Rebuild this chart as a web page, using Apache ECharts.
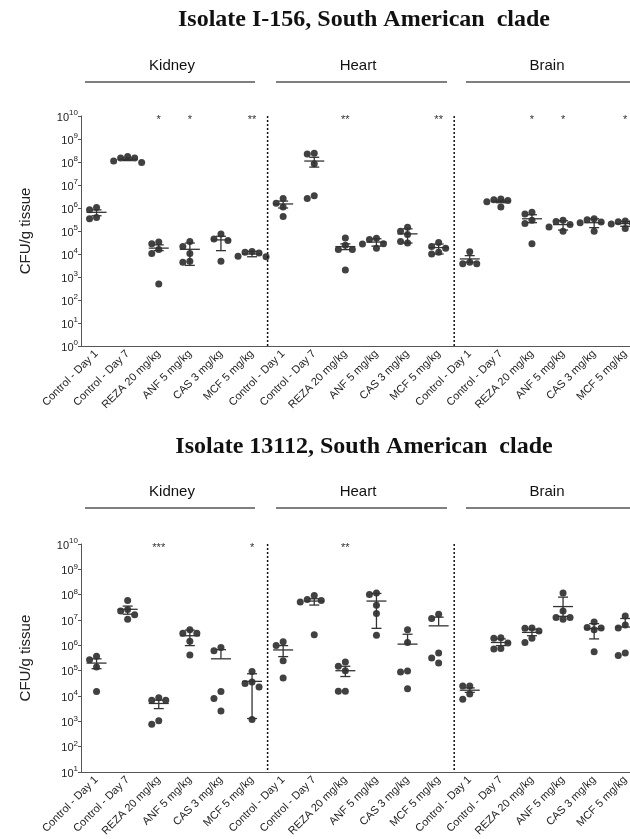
<!DOCTYPE html>
<html>
<head>
<meta charset="utf-8">
<script src="https://cdn.jsdelivr.net/npm/echarts@6/dist/echarts.min.js"></script>
<style>
  html, body { margin: 0; padding: 0; background: #fff; width: 630px; height: 839px; overflow: hidden; }
  #main { width: 660px; height: 839px; }
</style>
</head>
<body>
<div id="main"></div>
<script>
var chart = echarts.init(document.getElementById("main"));

var organs = ["Kidney", "Heart", "Brain"];
var treatments = ["Control - Day 1", "Control - Day 7", "REZA 20 mg/kg", "ANF 5 mg/kg", "CAS 3 mg/kg", "MCF 5 mg/kg"];
var categories = treatments.concat(treatments, treatments);

// Isolate I-156: CFU/g per mouse, kidney x6, heart x6, brain x6
var i156Points = [
  [8.3e5, 1.05e6, 3.4e5, 3.9e5],
  [1.75e8, 1.5e8, 1.1e8, 1.5e8, 9.5e7],
  [3.3e4, 2.8e4, 1.55e4, 1.05e4, 500],
  [3.5e4, 2.1e4, 1.05e4, 4.4e3, 4.8e3],
  [7.4e4, 4.5e4, 3.9e4, 4.8e3],
  [1.3e4, 1.1e4, 1.2e4, 7.5e3, 8e3],
  [2.6e6, 1.6e6, 1.1e6, 4.3e5],
  [2.4e8, 2.25e8, 8.3e7, 2.6e6, 3.4e6],
  [5e4, 2.4e4, 1.55e4, 1.55e4, 2e3],
  [4.8e4, 4.3e4, 2.8e4, 2.7e4, 1.8e4],
  [1.45e5, 9.8e4, 7e4, 3e4, 3.5e4],
  [2.1e4, 1.8e4, 3.2e4, 1e4, 1.2e4],
  [1.25e4, 3.8e3, 4.4e3, 3.8e3],
  [2.45e6, 2.1e6, 2.3e6, 1.85e6, 1.1e6],
  [6.5e5, 5.5e5, 2.9e5, 2.1e5, 2.8e4],
  [2.9e5, 1.9e5, 2.6e5, 1.5e5, 9.8e4],
  [3.4e5, 2.45e5, 3.1e5, 2.3e5, 9.8e4],
  [2.7e5, 2.3e5, 2.5e5, 1.3e5, 2e5]
];
var i156Mean = [6.5e5, 1.3e8, 1.8e4, 1.6e4, 4.1e4, 1.0e4, 1.5e6, 1.1e8, 2.1e4, 3.3e4, 7.5e4, 1.9e4, 6.1e3, 1.95e6, 3.4e5, 1.9e5, 2.3e5, 2.1e5];
var i156Low = [4.6e5, 1.15e8, 1.4e4, 3.2e3, 1.4e4, 7.6e3, 1.0e6, 6e7, 1.55e4, 2.2e4, 3e4, 1.0e4, 4.4e3, 1.7e6, 2.3e5, 1.1e5, 1.4e5, 1.6e5];
var i156High = [8.3e5, 1.5e8, 2.5e4, 3.0e4, 5.9e4, 1.3e4, 2.0e6, 1.6e8, 2.75e4, 4.6e4, 1.25e5, 2.7e4, 8.5e3, 2.2e6, 5.1e5, 2.8e5, 3.4e5, 2.6e5];
var i156Stars = ["", "", "*", "*", "", "**", "", "", "**", "", "", "**", "", "", "*", "*", "", "*"];

// Isolate 13112
var i13112Points = [
  [2.7e5, 3.7e5, 1.4e5, 1.5e4],
  [5.9e7, 2.6e7, 2.25e7, 1.6e7, 1.07e7],
  [6.9e3, 8.5e3, 6.9e3, 780, 1.05e3],
  [3e6, 4.1e6, 3e6, 1.45e6, 4.2e5],
  [8.3e5, 6.2e5, 1.5e4, 8e3, 2.6e3],
  [9.4e4, 3.1e4, 3.6e4, 2.3e4, 1.2e3],
  [9.8e5, 1.4e6, 2.5e5, 5.2e4],
  [6.5e7, 5.2e7, 9.3e7, 5.9e7, 2.6e6],
  [2.2e5, 1.0e5, 1.5e5, 1.55e4, 1.55e4],
  [1.17e8, 1.02e8, 3.8e7, 1.8e7, 2.5e6],
  [4.1e6, 1.3e6, 9.8e4, 9e4, 1.95e4],
  [1.7e7, 1.15e7, 5e5, 3.2e5, 2e5],
  [2.5e4, 2.5e4, 1.2e4, 7.4e3],
  [1.9e6, 2e6, 1.23e6, 7.2e5, 7.6e5],
  [4.7e6, 4.8e6, 3.7e6, 1.3e6, 1.9e6],
  [1.17e8, 2.25e7, 1.07e7, 1.25e7, 1.25e7],
  [5.1e6, 8.3e6, 4.8e6, 4.1e6, 5.6e5],
  [4.8e6, 1.45e7, 6.3e6, 4e5, 5e5]
];
var i13112Mean = [2.0e5, 2.65e7, 5.1e3, 2.4e6, 2.95e5, 3.8e4, 6.6e5, 5.6e7, 1.0e5, 5.6e7, 1.12e6, 5.9e6, 1.7e4, 1.3e6, 3.25e6, 3.4e7, 4.6e6, 5.3e6];
var i13112Low = [1.2e5, 1.7e7, 3.2e3, 9.8e5, null, 1.3e3, 3.6e5, 3.9e7, 5.9e4, 4.7e6, null, null, 1.4e4, 9.8e5, 2.4e6, 1.4e7, 1.8e6, null];
var i13112High = [2.95e5, 3.55e7, 6.9e3, 4.0e6, 6.8e5, 7.6e4, 9.8e5, 6.9e7, 1.5e5, 1.12e8, 2.75e6, 1.3e7, 2.1e4, 1.8e6, 4.4e6, 8e7, 7.2e6, 1.15e7];
var i13112Stars = ["", "", "***", "", "", "*", "", "", "**", "", "", "", "", "", "", "", "", ""];

var panels = [
  { title: "Isolate I-156, South American  clade", points: i156Points, mean: i156Mean, low: i156Low, high: i156High, stars: i156Stars,
    top: 116, height: 230, min: 1, max: 1e10, titleY: 20, organY: 66, lineY: 82 },
  { title: "Isolate 13112, South American  clade", points: i13112Points, mean: i13112Mean, low: i13112Low, high: i13112High, stars: i13112Stars,
    top: 544, height: 230, min: 10, max: 1e10, titleY: 447, organY: 492, lineY: 508 }
];

var GRID_LEFT = 81, BAND = 31.1, DOT = 7;
var headerLines = [[85, 255], [276, 447], [466, 640]];
var headerCenters = [172, 358, 547];

// spread points that would overlap, like a prism scatter
function spread(vals, pxPerDecade) {
  var order = vals.map(function (v, i) { return i; })
    .sort(function (a, b) { return vals[b] - vals[a]; });
  var placed = [], offsets = [];
  var cands = [0, -DOT, DOT, -2 * DOT, 2 * DOT];
  order.forEach(function (i) {
    var y = Math.log10(vals[i]) * pxPerDecade;
    var c = 0;
    for (; c < cands.length - 1; c++) {
      var ok = placed.every(function (p) {
        var dx = p.x - cands[c], dy = p.y - y;
        return dx * dx + dy * dy >= DOT * DOT;
      });
      if (ok) break;
    }
    placed.push({ x: cands[c], y: y });
    offsets[i] = cands[c];
  });
  return offsets;
}

function expLabel(v) {
  return "{b|10}{e|" + Math.round(Math.log10(v)) + "}";
}

var grids = [], xAxes = [], yAxes = [], series = [], graphics = [];

panels.forEach(function (p, k) {
  grids.push({ left: GRID_LEFT, top: p.top, width: BAND * 18, height: p.height });
  xAxes.push({
    gridIndex: k, type: "category", data: categories, boundaryGap: true,
    axisLine: { lineStyle: { color: "#555", width: 1 } },
    axisTick: { alignWithLabel: true, length: 4, lineStyle: { color: "#555" } },
    axisLabel: { interval: 0, rotate: 45, fontSize: 11, color: "#222", margin: 6, fontFamily: "Liberation Sans" }
  });
  var decades = Math.log10(p.max / p.min);
  yAxes.push({
    gridIndex: k, type: "log", logBase: 10, min: p.min, max: p.max, interval: 1,
    name: "CFU/g tissue", nameLocation: "middle", nameGap: 48,
    nameTextStyle: { fontSize: 15, color: "#222", fontFamily: "Liberation Sans" },
    axisLine: { show: true, lineStyle: { color: "#555", width: 1 } },
    axisTick: { show: true, length: 3, lineStyle: { color: "#555" } },
    splitLine: { show: false },
    axisLabel: {
      margin: 3, formatter: expLabel,
      rich: {
        b: { fontSize: 11, color: "#222", fontFamily: "Liberation Sans", verticalAlign: "bottom", lineHeight: 14 },
        e: { fontSize: 8, color: "#222", fontFamily: "Liberation Sans", verticalAlign: "top", lineHeight: 14 }
      }
    }
  });

  var pxPerDecade = p.height / decades;
  var dots = [];
  p.points.forEach(function (vals, g) {
    var offs = spread(vals, pxPerDecade);
    vals.forEach(function (v, j) {
      dots.push({ value: [g, v], symbolOffset: [offs[j], 0] });
    });
  });
  series.push({
    type: "scatter", xAxisIndex: k, yAxisIndex: k, data: dots,
    symbol: "circle", symbolSize: DOT, itemStyle: { color: "#111" }, z: 3, silent: true
  });

  var bars = p.mean.map(function (m, g) {
    return [g, m, p.low[g] == null ? m : p.low[g], p.high[g]];
  });
  series.push({
    type: "custom", xAxisIndex: k, yAxisIndex: k, data: bars, z: 4, silent: true,
    encode: { x: 0, y: [1, 2, 3] },
    renderItem: function (params, api) {
      var g = api.value(0);
      var cm = api.coord([g, api.value(1)]);
      var cl = api.coord([g, api.value(2)]);
      var ch = api.coord([g, api.value(3)]);
      var st = { stroke: "#333", lineWidth: 1.3 };
      var items = [
        { type: "line", shape: { x1: cm[0] - 10, y1: cm[1], x2: cm[0] + 10, y2: cm[1] }, style: st },
        { type: "line", shape: { x1: cm[0], y1: ch[1], x2: cm[0], y2: cl[1] }, style: st },
        { type: "line", shape: { x1: cm[0] - 5, y1: ch[1], x2: cm[0] + 5, y2: ch[1] }, style: st }
      ];
      if (Math.abs(cl[1] - cm[1]) > 0.5) {
        items.push({ type: "line", shape: { x1: cm[0] - 5, y1: cl[1], x2: cm[0] + 5, y2: cl[1] }, style: st });
      }
      return { type: "group", children: items };
    }
  });

  // significance marks at the top of each group
  series.push({
    type: "custom", xAxisIndex: k, yAxisIndex: k, z: 5, silent: true,
    data: p.stars.map(function (s, g) { return [g, p.max]; }),
    renderItem: function (params, api) {
      var s = p.stars[api.value(0)];
      if (!s) return null;
      var c = api.coord([api.value(0), p.max]);
      return {
        type: "text",
        style: { text: s, x: c[0], y: c[1] + 4, align: "center", verticalAlign: "middle",
          fill: "#333", font: "11px Liberation Sans" }
      };
    }
  });

  // dotted separators between organs
  series.push({
    type: "custom", xAxisIndex: k, yAxisIndex: k, z: 2, silent: true,
    data: [[5, p.max], [11, p.max]],
    renderItem: function (params, api) {
      var c = api.coord([api.value(0), p.max]);
      var x = c[0] + api.size([1, 0])[0] / 2;
      var cs = params.coordSys;
      return {
        type: "line", shape: { x1: x, y1: cs.y, x2: x, y2: cs.y + cs.height },
        style: { stroke: "#111", lineWidth: 1.5, lineDash: [2, 2] }
      };
    }
  });

  graphics.push({
    type: "text", x: 364, y: p.titleY,
    style: { text: p.title, align: "center", verticalAlign: "middle", fill: "#111",
      font: "bold 24px Liberation Serif" }
  });
  organs.forEach(function (o, i) {
    graphics.push({
      type: "text", x: headerCenters[i], y: p.organY,
      style: { text: o, align: "center", verticalAlign: "middle", fill: "#111", font: "15px Liberation Sans" }
    });
    graphics.push({
      type: "line", shape: { x1: headerLines[i][0], y1: p.lineY, x2: headerLines[i][1], y2: p.lineY },
      style: { stroke: "#555", lineWidth: 1.5 }
    });
  });
});

var option = {
  backgroundColor: "#fff",
  animation: false,
  grid: grids,
  xAxis: xAxes,
  yAxis: yAxes,
  series: series,
  graphic: graphics
};
chart.setOption(option);
</script>
</body>
</html>
